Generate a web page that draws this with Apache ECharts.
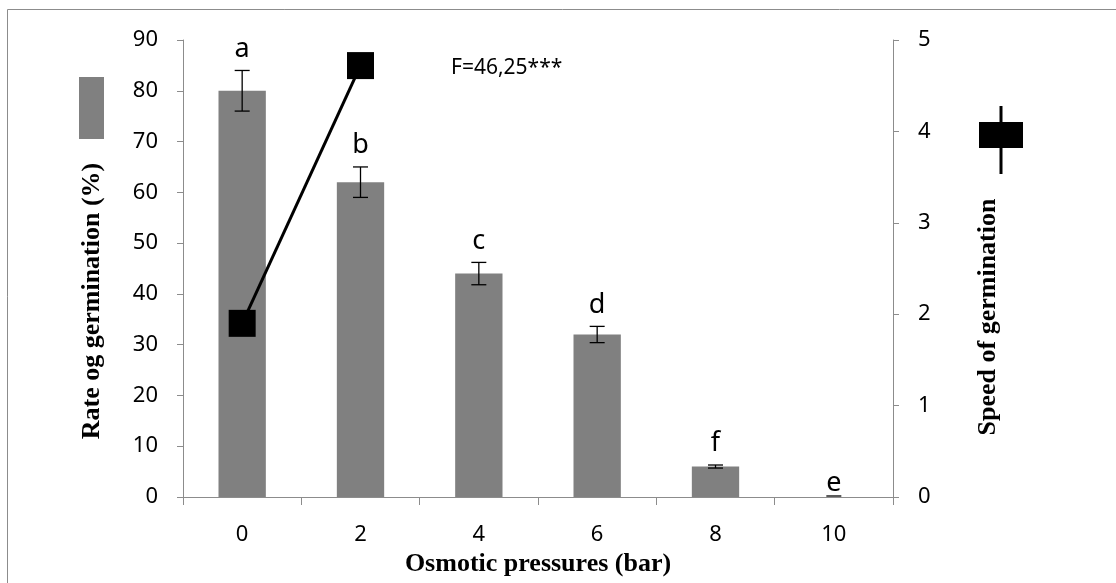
<!DOCTYPE html>
<html>
<head>
<meta charset="utf-8">
<script src="https://cdn.jsdelivr.net/npm/echarts@6/dist/echarts.min.js"></script>
<style>html,body{margin:0;padding:0;background:#fff}#c{width:1116px;height:583px}</style>
</head>
<body>
<div id="c"></div>
<script>
const categories = ['0', '2', '4', '6', '8', '10'];
const rateValues = [80, 62, 44, 32, 6, 0];
const rateErrors = [4, 3, 2.2, 1.6, 0.3, 0];
const letters = ['a', 'b', 'c', 'd', 'f', 'e'];
const speedValues = [1.9, 4.72, null, null, null, null];
const leftTicks = [0, 90, 10];
const rightTicks = [0, 5, 1];
const annotation = 'F=46,25***';

const chart = echarts.init(document.getElementById('c'));
const tickFont = {fontFamily: 'Noto Sans', fontSize: 22, color: '#000'};
const axisGray = '#8c8c8c';
const serifBold = {fontFamily: 'Liberation Serif', fontWeight: 'bold', fontSize: 26, color: '#000'};

chart.setOption({
  animation: false,
  backgroundColor: '#fff',
  grid: {left: 183, right: 223, top: 40, bottom: 86, containLabel: false, outerBoundsMode: 'none'},
  xAxis: {
    type: 'category', data: categories,
    axisLine: {lineStyle: {color: axisGray}},
    axisTick: {show: true, length: 8, lineStyle: {color: axisGray}},
    axisLabel: Object.assign({margin: 27}, tickFont),
    name: 'Osmotic pressures (bar)', nameLocation: 'middle', nameGap: 54,
    nameTextStyle: serifBold
  },
  yAxis: [{
    type: 'value', min: leftTicks[0], max: leftTicks[1], interval: leftTicks[2],
    axisLine: {show: true, lineStyle: {color: axisGray}},
    axisTick: {show: true, length: 6, lineStyle: {color: axisGray}},
    splitLine: {show: false},
    axisLabel: Object.assign({margin: 25}, tickFont)
  }, {
    type: 'value', min: rightTicks[0], max: rightTicks[1], interval: rightTicks[2],
    position: 'right',
    axisLine: {show: true, lineStyle: {color: axisGray}},
    axisTick: {show: true, length: 6, lineStyle: {color: axisGray}},
    splitLine: {show: false},
    axisLabel: Object.assign({margin: 25}, tickFont)
  }],
  series: [{
    type: 'bar', data: rateValues, barWidth: '40%',
    itemStyle: {color: '#808080'}, z: 2
  }, {
    type: 'custom', z: 3,
    data: rateValues.map((v, i) => [i, v, rateErrors[i]]),
    renderItem: function (params, api) {
      const x = api.value(0), v = api.value(1), e = api.value(2);
      const top = api.coord([x, v + e]);
      const bot = api.coord([x, v - e]);
      const hw = 7.5;
      const children = [];
      const s = {stroke: '#000', lineWidth: 1.3};
      if (e > 0) {
        children.push({type: 'line', shape: {x1: top[0], y1: top[1], x2: bot[0], y2: bot[1]}, style: s});
        children.push({type: 'line', shape: {x1: top[0] - hw, y1: top[1], x2: top[0] + hw, y2: top[1]}, style: s});
        children.push({type: 'line', shape: {x1: bot[0] - hw, y1: bot[1], x2: bot[0] + hw, y2: bot[1]}, style: s});
      } else {
        children.push({type: 'line', shape: {x1: top[0] - hw, y1: top[1] - 1, x2: top[0] + hw, y2: top[1] - 1}, style: s});
      }
      children.push({type: 'text', x: top[0], y: top[1] - (e > 0 ? 8 : 0), style: {
        text: letters[params.dataIndex], fontFamily: 'Noto Sans', fontSize: 27, fill: '#000',
        align: 'center', verticalAlign: 'bottom'}});
      return {type: 'group', children: children};
    }
  }, {
    type: 'line', yAxisIndex: 1, data: speedValues, connectNulls: false,
    symbol: 'rect', symbolSize: 27,
    lineStyle: {color: '#000', width: 3},
    itemStyle: {color: '#000'}, z: 5
  }],
  graphic: [
    {type: 'rect', shape: {x: 7.5, y: 9.5, width: 1120, height: 600}, style: {fill: 'none', stroke: '#8c8c8c', lineWidth: 1}, silent: true, z: -1},
    {type: 'rect', shape: {x: 79, y: 77, width: 25, height: 62}, style: {fill: '#808080'}},
    {type: 'text', x: 92, y: 301, rotation: Math.PI / 2, style: {text: 'Rate og germination (%)', align: 'center', verticalAlign: 'middle', fill: '#000', font: 'bold 26px "Liberation Serif"'}},
    {type: 'line', shape: {x1: 1001, y1: 106, x2: 1001, y2: 174}, style: {stroke: '#000', lineWidth: 3}},
    {type: 'rect', shape: {x: 979, y: 122, width: 44, height: 26}, style: {fill: '#000'}},
    {type: 'text', x: 988, y: 317, rotation: Math.PI / 2, style: {text: 'Speed of germination', align: 'center', verticalAlign: 'middle', fill: '#000', font: 'bold 26px "Liberation Serif"'}},
    {type: 'text', x: 451, y: 68, style: {text: annotation, fill: '#000', font: '21px "Noto Sans"', verticalAlign: 'middle'}}
  ]
});
</script>
</body>
</html>
